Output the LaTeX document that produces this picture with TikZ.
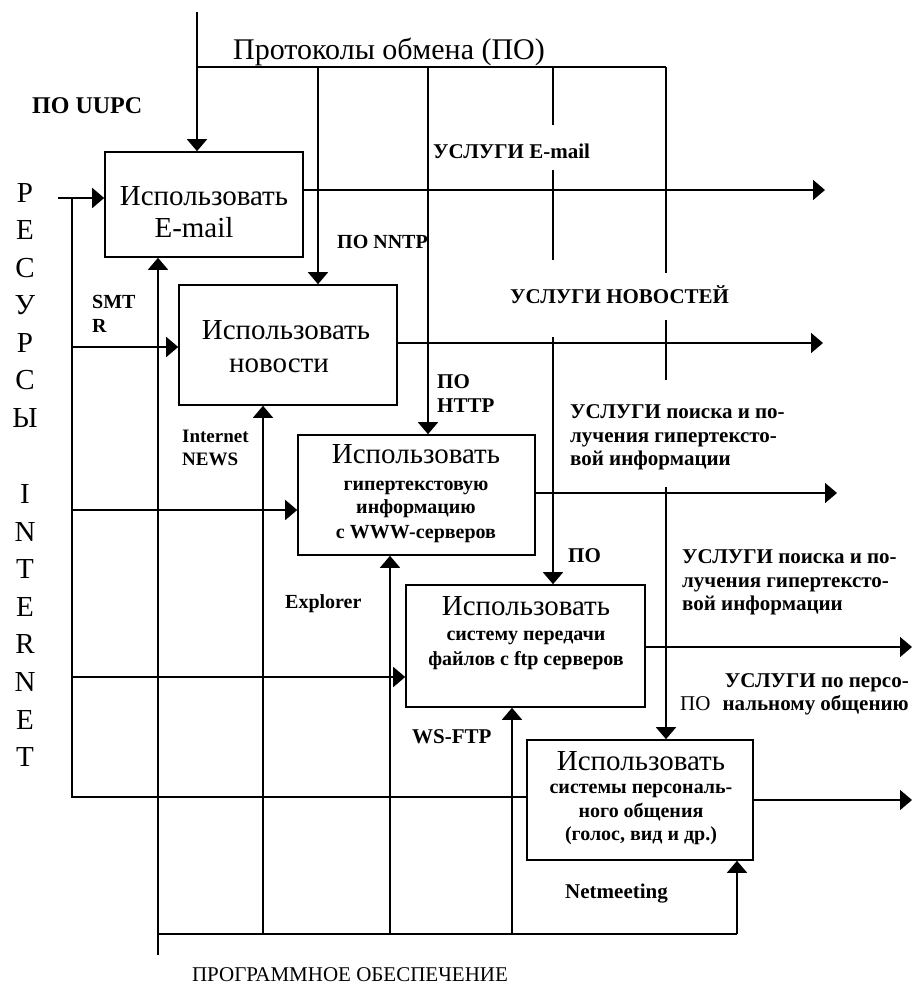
\documentclass[tikz,border=0pt]{standalone}
\usepackage{fontspec}
\setmainfont{Liberation Serif}
\usetikzlibrary{arrows.meta}
\begin{document}
\begin{tikzpicture}[x=1pt,y=-1pt,
  lw/.style={line width=1.6pt},
  ln/.style={lw},
  arr/.style={lw,-{Triangle[width=20pt,length=12pt]}},
  box/.style={draw,lw,inner sep=0pt},
  big/.style={font=\fontsize{29}{30}\selectfont,inner sep=0pt,anchor=base},
  sub/.style={font=\fontsize{20}{24}\selectfont\bfseries,inner sep=0pt,anchor=base},
  lab/.style={font=\fontsize{21}{24}\selectfont\bfseries,inner sep=0pt,anchor=base west},
  reg/.style={font=\fontsize{21}{24}\selectfont,inner sep=0pt},
  letter/.style={font=\fontsize{29}{30}\selectfont,inner sep=0pt,anchor=center}]
\useasboundingbox (0,0) rectangle (914,988);

% boxes
\node[box,minimum width=198pt,minimum height=105pt] (b1) at (204,204.5) {};
\node[box,minimum width=218pt,minimum height=120pt] (b2) at (288,345) {};
\node[box,minimum width=237pt,minimum height=120pt] (b3) at (416.5,495) {};
\node[box,minimum width=239pt,minimum height=122pt] (b4) at (525.5,646) {};
\node[box,minimum width=226pt,minimum height=120pt] (b5) at (640,800) {};

% box texts
\node[big] (t1a) at (204,205) {Использовать};
\node[big] (t1b) at (194,237) {E-mail};
\node[big] (t2a) at (286,339) {Использовать};
\node[big] (t2b) at (279,372) {новости};
\node[big] (t3a) at (416,463) {Использовать};
\node[sub] (t3b) at (416,490) {гипертекстовую};
\node[sub] (t3c) at (416,513) {информацию};
\node[sub] (t3d) at (416,538) {с WWW-серверов};
\node[big] (t4a) at (526,615) {Использовать};
\node[sub] (t4b) at (526,640) {систему передачи};
\node[sub] (t4c) at (526,665) {файлов с ftp серверов};
\node[big] (t5a) at (641,770) {Использовать};
\node[sub] (t5b) at (641,793) {системы персональ-};
\node[sub] (t5c) at (641,817) {ного общения};
\node[sub] (t5d) at (641,840) {(голос, вид и др.)};

% labels
\node[font=\fontsize{30}{32}\selectfont,inner sep=0pt,anchor=base] (title) at (389,59) {Протоколы обмена (ПО)};
\node[lab,font=\fontsize{24}{26}\selectfont\bfseries] (puupc) at (32,113) {ПО UUPC};
\node[lab] (uemail) at (433,158) {УСЛУГИ E-mail};
\node[lab,font=\fontsize{20}{24}\selectfont\bfseries] (pnntp) at (337,248) {ПО NNTP};
\node[lab,font=\fontsize{20}{24}\selectfont\bfseries] (smta) at (92,308) {SMT};
\node[lab,font=\fontsize{20}{24}\selectfont\bfseries] (smtb) at (92,332) {R};
\node[lab] (unews) at (510,303) {УСЛУГИ НОВОСТЕЙ};
\node[lab] (phttpa) at (437,388) {ПО};
\node[lab] (phttpb) at (437,412) {HTTP};
\node[lab] (usa1) at (570,418) {УСЛУГИ поиска и по-};
\node[lab] (usa2) at (570,442) {лучения гипертексто-};
\node[lab] (usa3) at (570,465) {вой информации};
\node[lab,font=\fontsize{19}{24}\selectfont\bfseries] (ineta) at (182,442) {Internet};
\node[lab,font=\fontsize{19}{24}\selectfont\bfseries] (inetb) at (182,465) {NEWS};
\node[lab] (pofour) at (568,562) {ПО};
\node[lab] (usb1) at (682,563) {УСЛУГИ поиска и по-};
\node[lab] (usb2) at (682,587) {лучения гипертексто-};
\node[lab] (usb3) at (682,610) {вой информации};
\node[lab,font=\fontsize{20}{24}\selectfont\bfseries] (expl) at (285,608) {Explorer};
\node[lab,anchor=base east] (usc1) at (909,687) {УСЛУГИ по персо-};
\node[lab,anchor=base east] (usc2) at (909,710) {нальному общению};
\node[reg,anchor=base west] (pofive) at (680,710) {ПО};
\node[lab] (wsftp) at (412,743) {WS-FTP};
\node[lab] (netm) at (565,898) {Netmeeting};
\node[reg,anchor=base] (prog) at (350,981) {ПРОГРАММНОЕ ОБЕСПЕЧЕНИЕ};

% vertical РЕСУРСЫ INTERNET
\foreach \ch/\yy [count=\k] in {Р/193,Е/230.5,С/268,У/305.5,Р/343,С/380.5,Ы/418,I/494,N/531.5,T/569,E/606.5,R/644,N/682,E/719.5,T/757}
  \node[letter] (res\k) at (25,\yy) {\ch};

% controls (top)
\coordinate (ctop) at (197,12);
\coordinate (cj) at (197,67);
\coordinate (cr) at (666,67);
\coordinate (c2) at (318,67);
\coordinate (c3) at (428,67);
\coordinate (c4) at (553,67);
\draw[arr] (ctop) -- (ctop |- b1.north);
\draw[ln] (cj) -- (cr);
\draw[arr] (c2) -- (c2 |- b2.north);
\draw[arr] (c3) -- (c3 |- b3.north);
\draw[ln] (c4) -- ++(0,58);
\draw[ln] (553,170) coordinate (c4b) -- ++(0,90);
\draw[arr] (553,337) coordinate (c4c) -- (c4c |- b4.north);
\draw[ln] (cr) -- ++(0,206);
\draw[ln] (666,320) coordinate (c5b) -- ++(0,60);
\draw[arr] (666,487) coordinate (c5c) -- (c5c |- b5.north);

% mechanisms (bottom)
\coordinate (mb) at (158,955);
\coordinate (mj) at (158,934);
\coordinate (mr) at (737,934);
\coordinate (m2) at (263,934);
\coordinate (m3) at (390,934);
\coordinate (m4) at (512,934);
\draw[arr] (mb) -- (mb |- b1.south);
\draw[ln] (mj) -- (mr);
\draw[arr] (mr) -- (mr |- b5.south);
\draw[arr] (m2) -- (m2 |- b2.south);
\draw[arr] (m3) -- (m3 |- b3.south);
\draw[arr] (m4) -- (m4 |- b4.south);

% inputs (left)
\coordinate (i0) at (58,198);
\coordinate (ij) at (72,198);
\coordinate (ib) at (72,797);
\coordinate (i2) at (72,347);
\coordinate (i3) at (72,510);
\coordinate (i4) at (72,677);
\draw[arr] (i0) -- (i0 -| b1.west);
\draw[ln] (ij) -- (ib) -- (ib -| b5.west);
\draw[arr] (i2) -- (i2 -| b2.west);
\draw[arr] (i3) -- (i3 -| b3.west);
\draw[arr] (i4) -- (i4 -| b4.west);

% outputs (right)
\coordinate (o1) at (825,190);
\coordinate (o2) at (823,343);
\coordinate (o3) at (837,493);
\coordinate (o4) at (912,647);
\coordinate (o5) at (912,800);
\draw[arr] (o1 -| b1.east) -- (o1);
\draw[arr] (o2 -| b2.east) -- (o2);
\draw[arr] (o3 -| b3.east) -- (o3);
\draw[arr] (o4 -| b4.east) -- (o4);
\draw[arr] (o5 -| b5.east) -- (o5);
\end{tikzpicture}
\end{document}
